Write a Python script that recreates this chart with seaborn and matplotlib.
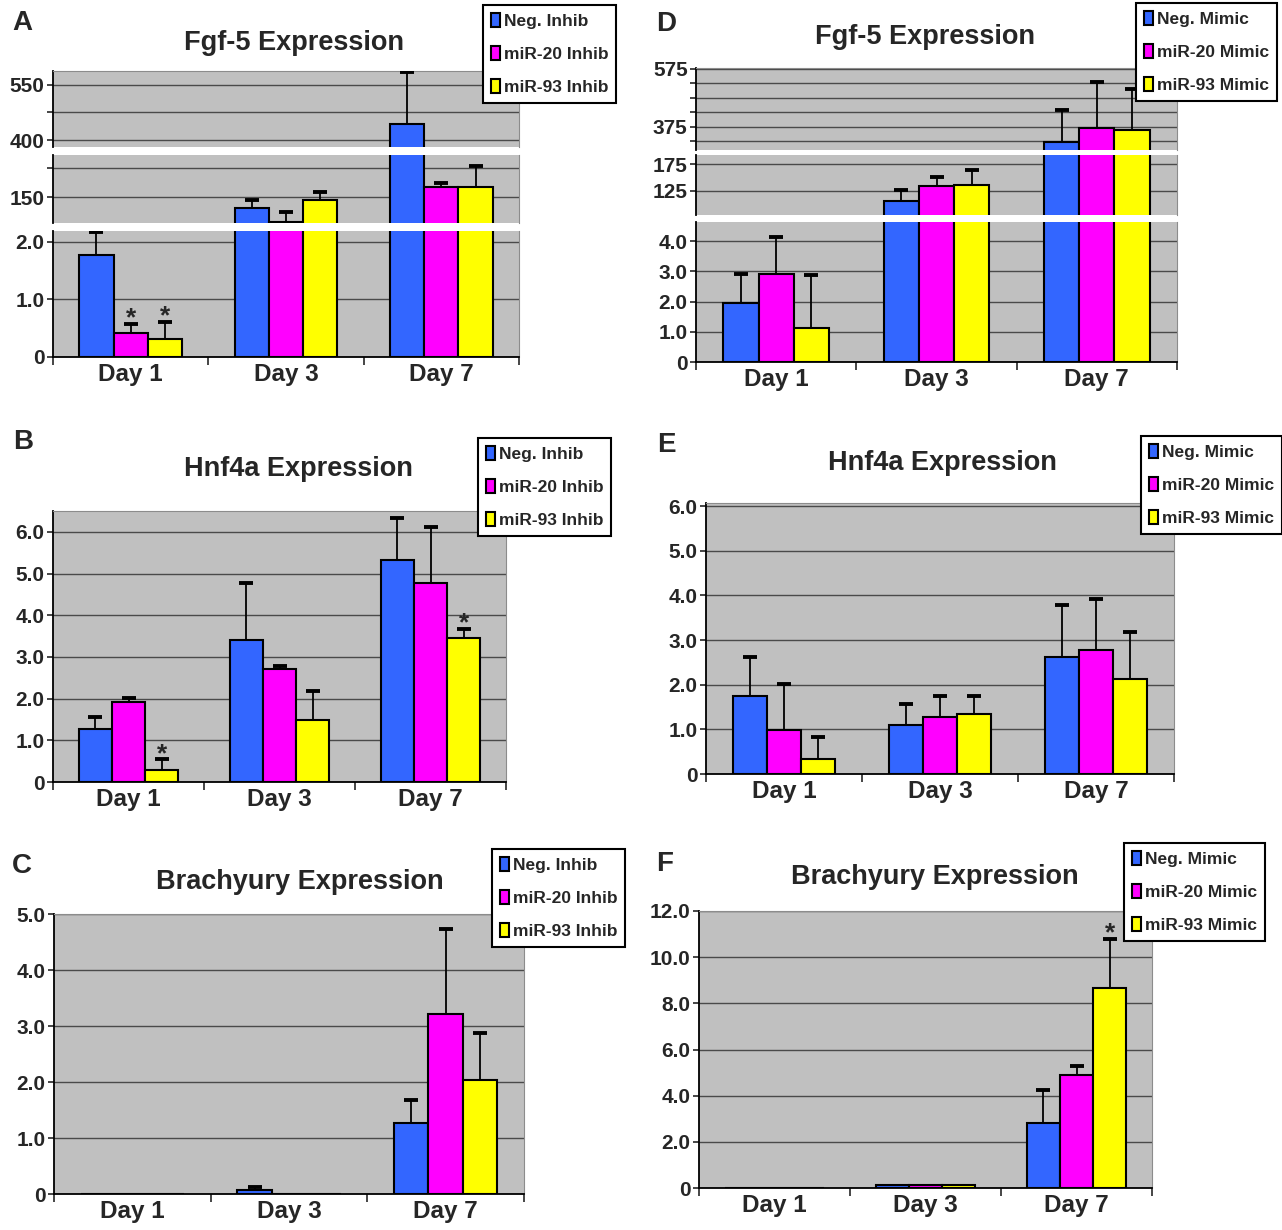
import matplotlib
matplotlib.use("Agg")
import matplotlib.pyplot as plt
from matplotlib.patches import Patch
import pandas as pd
import seaborn as sns

days = ["Day 1", "Day 3", "Day 7"]
bar_colors = ["#3366FF", "#FF00FF", "#FFFF00"]
inhib_groups = ["Neg. Inhib", "miR-20 Inhib", "miR-93 Inhib"]
mimic_groups = ["Neg. Mimic", "miR-20 Mimic", "miR-93 Mimic"]

# A - Fgf-5, inhibitors (values on the broken axis), rows = groups, cols = days
a_means = [[1.77, 130.5, 445], [0.42, 106.3, 167.2], [0.31, 145, 167.2]]
a_errs = [[0.40, 14.5, 141], [0.15, 18.4, 7.0], [0.30, 12.8, 36.7]]
a_stars = [(1, 0), (2, 0)]
a_top_ticks, a_top_labels = [400, 475, 550], ["400", "", "550"]
a_mid_ticks, a_mid_labels = [150, 200], ["150", ""]
a_bot_ticks, a_bot_labels = [0, 1, 2], ["0", "1.0", "2.0"]

# D - Fgf-5, mimics (broken axis)
d_means = [[1.96, 105.7, 321], [2.91, 133.8, 369.5], [1.11, 135.7, 363.5]]
d_errs = [[0.95, 20, 112], [1.21, 17.5, 158], [1.77, 29, 140]]
d_stars = []
d_top_ticks = [325, 375, 425, 475, 525, 575]
d_top_labels = ["", "375", "", "", "", "575"]
d_mid_ticks, d_mid_labels = [125, 175], ["125", "175"]
d_bot_ticks, d_bot_labels = [0, 1, 2, 3, 4], ["0", "1.0", "2.0", "3.0", "4.0"]

# B - Hnf4a, inhibitors
b_means = [[1.28, 3.40, 5.32], [1.92, 2.72, 4.78], [0.28, 1.48, 3.46]]
b_errs = [[0.28, 1.38, 1.02], [0.10, 0.06, 1.34], [0.26, 0.70, 0.20]]
b_stars = [(2, 0), (2, 2)]
b_ticks = [0, 1, 2, 3, 4, 5, 6]
b_labels = ["0", "1.0", "2.0", "3.0", "4.0", "5.0", "6.0"]

# E - Hnf4a, mimics
e_means = [[1.74, 1.09, 2.62], [0.99, 1.27, 2.77], [0.34, 1.34, 2.12]]
e_errs = [[0.88, 0.48, 1.16], [1.03, 0.47, 1.15], [0.49, 0.40, 1.06]]
e_stars = []
e_ticks = [0, 1, 2, 3, 4, 5, 6]
e_labels = ["0", "1.0", "2.0", "3.0", "4.0", "5.0", "6.0"]

# C - Brachyury, inhibitors
c_means = [[0.005, 0.08, 1.27], [0.005, 0.005, 3.22], [0.005, 0.005, 2.03]]
c_errs = [[0, 0.05, 0.41], [0, 0, 1.52], [0, 0, 0.85]]
c_stars = []
c_ticks = [0, 1, 2, 3, 4, 5]
c_labels = ["0", "1.0", "2.0", "3.0", "4.0", "5.0"]

# F - Brachyury, mimics
f_means = [[0.02, 0.12, 2.80], [0.02, 0.12, 4.90], [0.02, 0.12, 8.65]]
f_errs = [[0, 0, 1.45], [0, 0, 0.39], [0, 0, 2.12]]
f_stars = [(2, 2)]
f_ticks = [0, 2, 4, 6, 8, 10, 12]
f_labels = ["0", "2.0", "4.0", "6.0", "8.0", "10.0", "12.0"]

W, H = 1282, 1230
sns.set_style("white")
plt.rcParams["font.family"] = ["Liberation Sans", "DejaVu Sans"]
plt.rcParams["font.weight"] = "bold"

fig = plt.figure(figsize=(W / 100, H / 100), dpi=100)


def box(x0, x1, y0, y1):
    return [x0 / W, 1 - y1 / H, (x1 - x0) / W, (y1 - y0) / H]


def draw_segment(rect, groups, means, errs, stars, ylim, ticks, labels,
                 is_top, is_bottom):
    ax = fig.add_axes(rect)
    rows = []
    for g, vals in zip(groups, means):
        for d, v in zip(days, vals):
            rows.append({"day": d, "group": g, "value": v})
    df = pd.DataFrame(rows)
    sns.barplot(data=df, x="day", y="value", hue="group", order=days,
                hue_order=groups, palette=bar_colors, saturation=1,
                width=0.66, edgecolor="black", linewidth=1.5,
                errorbar=None, legend=False, ax=ax)
    ax.set_facecolor("#C0C0C0")
    ax.set_xlim(-0.5, 2.5)
    ax.set_ylim(*ylim)
    ax.set_xlabel("")
    ax.set_ylabel("")
    ax.set_yticks(ticks, labels)
    ax.yaxis.grid(True, color="#4a4a4a", linewidth=1)
    ax.set_axisbelow(True)
    ax.tick_params(axis="y", direction="out", length=4, width=1.2,
                   pad=2, labelsize=15, left=True)

    bar_conts = list(ax.containers)
    for gi, cont in enumerate(bar_conts):
        bars = sorted(cont.patches, key=lambda p: p.get_x())
        for di, bar in enumerate(bars):
            xc = bar.get_x() + bar.get_width() / 2
            top = bar.get_height()
            e = errs[gi][di]
            if e > 0:
                # upper half only, one cap
                ax.vlines(xc, top, top + e, color="black", linewidth=1.3,
                          zorder=4)
                ax.plot([xc], [top + e], marker="_", markersize=10,
                        markeredgewidth=2.8, color="black", zorder=4)
            if (gi, di) in stars:
                ax.annotate("*", (xc, top + e), xytext=(0, -1),
                            textcoords="offset points", ha="center",
                            va="baseline", fontsize=19, annotation_clip=True,
                            clip_on=True)

    ax.spines["left"].set_color("black")
    ax.spines["left"].set_linewidth(1.3)
    ax.spines["right"].set_color("#8c8c8c")
    ax.spines["top"].set_color("#8c8c8c")
    ax.spines["top"].set_visible(is_top)
    if is_bottom:
        ax.spines["bottom"].set_color("black")
        ax.spines["bottom"].set_linewidth(1.3)
        ax.set_xticks([0, 1, 2], days)
        ax.set_xticks([-0.5, 0.5, 1.5, 2.5], minor=True)
        ax.tick_params(axis="x", which="major", length=0, pad=4,
                       labelsize=17.5)
        ax.tick_params(axis="x", which="minor", direction="out", length=6,
                       width=1.2, bottom=True)
    else:
        ax.spines["bottom"].set_visible(False)
        ax.set_xticks([])
    return ax


def panel_text(letter, lpos, title, tpos, groups, legpos):
    fig.text(lpos[0] / W, 1 - lpos[1] / H, letter, fontsize=20,
             ha="center", va="center")
    fig.text(tpos[0] / W, 1 - tpos[1] / H, title, fontsize=19.5,
             ha="center", va="center")
    handles = [Patch(facecolor=c, edgecolor="black", linewidth=1.5)
               for c in bar_colors]
    leg = fig.legend(handles, groups, loc="upper left",
                     bbox_to_anchor=(legpos[0] / W, 1 - legpos[1] / H),
                     frameon=True, fancybox=False, framealpha=1,
                     edgecolor="black", fontsize=12.5, handlelength=0.55,
                     handleheight=0.85, handletextpad=0.2, labelspacing=1.0,
                     borderpad=0.45, borderaxespad=0)
    leg.get_frame().set_linewidth(1.5)


# A (broken axis)
draw_segment(box(53, 519, 71, 147), inhib_groups, a_means, a_errs, a_stars,
             (381, 588), a_top_ticks, a_top_labels, True, False)
draw_segment(box(53, 519, 155, 223), inhib_groups, a_means, a_errs, a_stars,
             (105.2, 222.4), a_mid_ticks, a_mid_labels, False, False)
draw_segment(box(53, 519, 231, 357), inhib_groups, a_means, a_errs, a_stars,
             (0, 2.19), a_bot_ticks, a_bot_labels, False, True)
panel_text("A", (22, 23), "Fgf-5 Expression", (294, 43), inhib_groups,
           (483, 5))

# D (broken axis)
draw_segment(box(696, 1177, 68, 150), mimic_groups, d_means, d_errs, d_stars,
             (295, 577), d_top_ticks, d_top_labels, True, False)
draw_segment(box(696, 1177, 155, 215), mimic_groups, d_means, d_errs, d_stars,
             (79.4, 192), d_mid_ticks, d_mid_labels, False, False)
draw_segment(box(696, 1177, 222, 362), mimic_groups, d_means, d_errs, d_stars,
             (0, 4.63), d_bot_ticks, d_bot_labels, False, True)
panel_text("D", (666, 24), "Fgf-5 Expression", (925, 37), mimic_groups,
           (1136, 3))

# B
draw_segment(box(53, 506, 511, 782), inhib_groups, b_means, b_errs, b_stars,
             (0, 6.5), b_ticks, b_labels, True, True)
panel_text("B", (23, 442), "Hnf4a Expression", (298, 469), inhib_groups,
           (478, 438))

# E
draw_segment(box(706, 1174, 503, 774), mimic_groups, e_means, e_errs, e_stars,
             (0, 6.07), e_ticks, e_labels, True, True)
panel_text("E", (666, 445), "Hnf4a Expression", (942, 463), mimic_groups,
           (1141, 436))

# C
draw_segment(box(54, 524, 914, 1194), inhib_groups, c_means, c_errs, c_stars,
             (0, 5.0), c_ticks, c_labels, True, True)
panel_text("C", (22, 866), "Brachyury Expression", (300, 882), inhib_groups,
           (492, 849))

# F
draw_segment(box(699, 1152, 911, 1188), mimic_groups, f_means, f_errs, f_stars,
             (0, 12.0), f_ticks, f_labels, True, True)
panel_text("F", (665, 864), "Brachyury Expression", (935, 877), mimic_groups,
           (1124, 843))

fig.savefig("out.png", dpi=100)
